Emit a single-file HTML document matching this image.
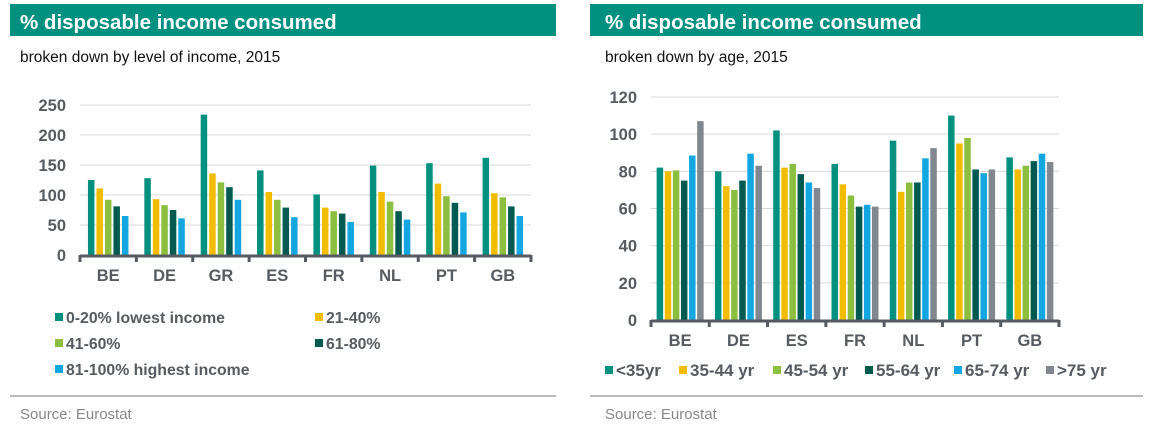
<!DOCTYPE html>
<html><head><meta charset="utf-8">
<style>
body{margin:0;background:#fff;font-family:"Liberation Sans",Arial,sans-serif;}
svg{display:block}
</style></head>
<body>
<svg id="c" width="1149" height="428" xmlns="http://www.w3.org/2000/svg">
<rect x="10" y="4" width="546" height="32" fill="#009080"/>
<text x="20" y="29" font-size="20.5" font-weight="bold" fill="#fff">% disposable income consumed</text>
<text x="20" y="62" font-size="15.5" fill="#111">broken down by level of income, 2015</text>
<rect x="590" y="4" width="553" height="32" fill="#009080"/>
<text x="605" y="29" font-size="20.5" font-weight="bold" fill="#fff">% disposable income consumed</text>
<text x="605" y="62" font-size="15.5" fill="#111">broken down by age, 2015</text>
<line x1="10" y1="396" x2="556" y2="396" stroke="#bbb" stroke-width="2"/>
<text x="20" y="419" font-size="15" fill="#888">Source: Eurostat</text>
<line x1="590" y1="396" x2="1143" y2="396" stroke="#bbb" stroke-width="2"/>
<text x="605" y="419" font-size="15" fill="#888">Source: Eurostat</text>
</svg>
<script>
const leftCats=["BE","DE","GR","ES","FR","NL","PT","GB"];
const leftSeries=["0-20% lowest income","21-40%","41-60%","61-80%","81-100% highest income"];
const leftS1=[125,128,234,141,101,149,153,162];
const leftS2=[111,93,136,105,79,105,119,103];
const leftS3=[92,83,121,92,73,89,98,96];
const leftS4=[81,75,113,79,69,73,87,81];
const leftS5=[65,61,92,63,55,59,71,65];
const leftTicks=[0,50,100,150,200,250];
const rightCats=["BE","DE","ES","FR","NL","PT","GB"];
const rightSeries=["<35yr","35-44 yr","45-54 yr","55-64 yr","65-74 yr",">75 yr"];
const rightS1=[82,80,102,84,96.5,110,87.5];
const rightS2=[80,72,82,73,69,95,81];
const rightS3=[80.5,70,84,67,74,98,83];
const rightS4=[75,75,78.5,61,74,81,85.5];
const rightS5=[88.5,89.5,74,62,87,79,89.5];
const rightS6=[107,83,71,61,92.5,81,85];
const rightTicks=[0,20,40,60,80,100,120];
const colors=["#00907f","#f2bd00","#8cbf3f","#005a50","#13a6e0","#80878f"];
const NS="http://www.w3.org/2000/svg";
const svg=document.getElementById('c');
function mk(t,a,txt){const e=document.createElementNS(NS,t);for(const k in a)e.setAttribute(k,a[k]);if(txt!==undefined)e.textContent=txt;svg.appendChild(e);return e;}
function chart(p,cats,series,ticks,vals,x0,x1,y0,yTop,maxV,bw,gap,pre){
  const y=v=>y0-(v/maxV)*(y0-yTop);
  const band=(x1-x0)/cats.length;
  ticks.forEach(t=>{
    if(t>0){const g=mk('line',{x1:x0,x2:x1,y1:y(t),y2:y(t),stroke:'#d9d9d9','stroke-width':1});
    
    }
    const l=mk('text',{x:x0-14,y:y(t)+6,'font-size':16.5,'font-weight':'bold',fill:'#555b60','text-anchor':'end'},t);
    
    
  });
  const gw=series.length*bw+(series.length-1)*gap;
  cats.forEach((c,i)=>{
    const cx=x0+band*(i+0.5);
    vals.forEach((arr,s)=>{
      const bx=cx-gw/2+s*(bw+gap);
      const r=mk('rect',{x:bx,y:y(arr[i]),width:bw,height:y0-y(arr[i]),fill:colors[s]});
      
      
    });
    const l=mk('text',{x:cx,y:y0+26,'font-size':16.5,'font-weight':'bold',fill:'#555b60','text-anchor':'middle'},c);
    
    
  });
  const ax=mk('line',{x1:x0,x2:x1,y1:y0+1,y2:y0+1,stroke:'#555b60','stroke-width':3});
  
  
  for(let i=0;i<=cats.length;i++){
    const tk=mk('line',{x1:x0+band*i,x2:x0+band*i,y1:y0,y2:y0+7,stroke:'#555b60','stroke-width':3});
    
    
  }
}
chart(svg,leftCats,leftSeries,leftTicks,[leftS1,leftS2,leftS3,leftS4,leftS5],80,531,255,105,250,6.5,2,'left');
chart(svg,rightCats,rightSeries,rightTicks,[rightS1,rightS2,rightS3,rightS4,rightS5,rightS6],651,1059,320,97,120,6.5,1.6,'right');
function legend(pre,series,pos,fs){
  series.forEach((s,i)=>{
    const [lx,ly]=pos[i];
    const m=mk('rect',{x:lx,y:ly-10,width:8,height:8,fill:colors[i]});
    
    
    const t=mk('text',{x:lx+11,y:ly,'font-size':fs,'font-weight':'bold',fill:'#555b60'},s);
    
    
  });
}
legend('left',leftSeries,[[55,323],[315,323],[55,349],[315,349],[55,375]],15.8);
legend('right',rightSeries,[[605,376],[679,376],[773,376],[865,376],[954,376],[1046,376]],17);
</script>
</body></html>
